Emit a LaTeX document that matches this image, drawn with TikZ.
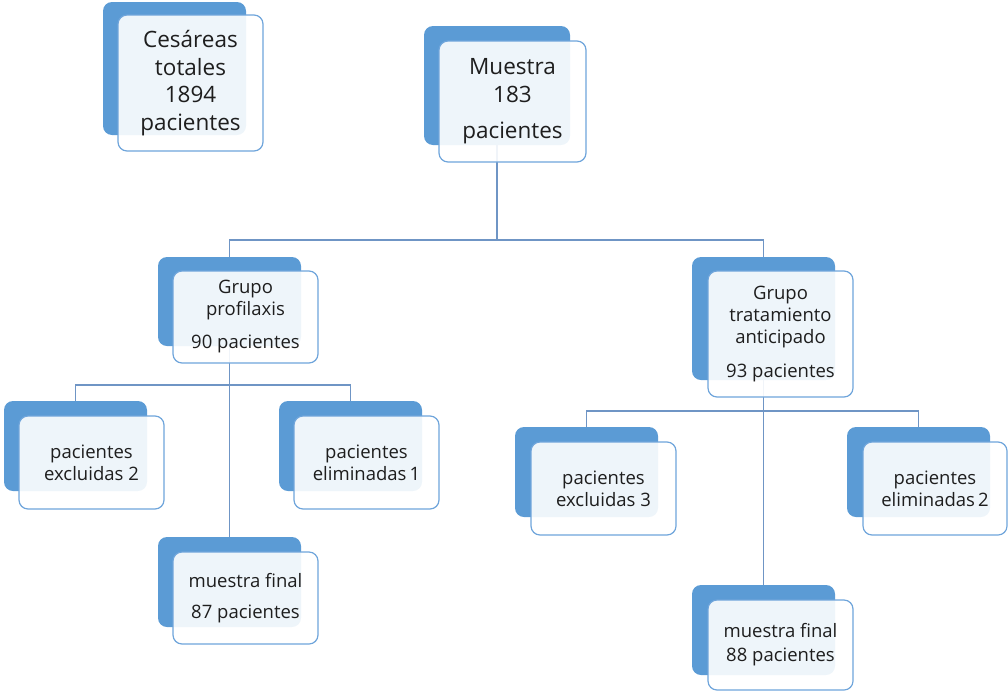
\documentclass[tikz,border=0pt]{standalone}
\usepackage{fontspec}
\setmainfont{Open Sans}
\usepackage{tikz}
\usetikzlibrary{positioning,calc}
\definecolor{boxblue}{HTML}{5B9BD5}
\definecolor{edgeblue}{HTML}{6FA5DB}
\definecolor{linkblue}{HTML}{6F95C5}
\definecolor{txtgray}{HTML}{1E1E1E}

\begin{document}
\begin{tikzpicture}[x=1pt,y=-1pt,
  back/.style={fill=boxblue,draw=none,rounded corners=9pt,minimum width=143pt},
  front/.style={draw=edgeblue,line width=1.2pt,fill=white,fill opacity=0.9,text opacity=1,
                rounded corners=9pt,minimum width=145pt,align=center,text=txtgray,inner sep=0pt},
  big/.style={font=\fontsize{22.5}{27.5}\selectfont},
  small/.style={font=\fontsize{18.5}{22}\selectfont},
  conn/.style={draw=linkblue,line width=1.9pt}
]
  \useasboundingbox (0,0) rectangle (1008,691);
  % shadow boxes behind
  \foreach \n/\px/\py/\w/\h in {ces/174.5/68.5/143/133,mue/497/85.5/146/119,
      gp/229.5/301.5/143/89,ex2/75.5/446/143/90,el1/350.5/446/143/90,
      mf1/229.5/582/143/90,gt/763.5/318.5/143/123,ex3/586.5/472/143/90,
      el2/918.5/472/143/90,mf2/763.5/630/143/90}
    \node[back,minimum width=\w,minimum height=\h] (\n-bg) at (\px,\py) {};
  % connectors
  \coordinate (bus0) at (0,240);
  \coordinate (bus1) at (0,385);
  \coordinate (bus2) at (0,411);
  \draw[conn] (mue-bg.south) -- (mue-bg.south |- bus0);
  \draw[conn] (gp-bg.north) -- (gp-bg.north |- bus0) -- (gt-bg.north |- bus0) -- (gt-bg.north);
  \draw[conn] (gp-bg.south) -- (mf1-bg.north);
  \draw[conn] (gt-bg.south) -- (mf2-bg.north);
  \draw[conn] (ex2-bg.north) -- (ex2-bg.north |- bus1) -- (el1-bg.north |- bus1) -- (el1-bg.north);
  \draw[conn] (ex3-bg.north) -- (ex3-bg.north |- bus2) -- (el2-bg.north |- bus2) -- (el2-bg.north);
  % text boxes
  \node[front,big,minimum height=136] (ces) at ($(ces-bg)+(16,14.5)$) {Cesáreas\\totales\\1894\\pacientes};
  \node[front,big,minimum width=147,minimum height=121] (mue) at ($(mue-bg)+(15.5,16)$) {Muestra\\183\\[9pt]pacientes};
  \node[front,small,minimum height=92] (gp) at ($(gp-bg)+(16,15.5)$) {Grupo\\profilaxis\\[11pt]90 pacientes};
  \node[front,small,minimum height=93] (ex2) at ($(ex2-bg)+(16,16.5)$) {pacientes\\excluidas 2};
  \node[front,small,minimum height=93] (el1) at ($(el1-bg)+(16,16.5)$) {pacientes\\eliminadas\,1};
  \node[front,small,minimum height=92] (mf1) at ($(mf1-bg)+(16,16)$) {muestra final\\[9pt]87 pacientes};
  \node[front,small,minimum height=126] (gt) at ($(gt-bg)+(17,15.5)$) {Grupo\\tratamiento\\anticipado\\[12pt]93 pacientes};
  \node[front,small,minimum height=93] (ex3) at ($(ex3-bg)+(17,16.5)$) {pacientes\\excluidas 3};
  \node[front,small,minimum width=144,minimum height=93] (el2) at ($(el2-bg)+(16.5,16.5)$) {pacientes\\eliminadas\,2};
  \node[front,small,minimum height=90] (mf2) at ($(mf2-bg)+(17,15)$) {muestra final\\[2pt]88 pacientes};
\end{tikzpicture}
\end{document}
